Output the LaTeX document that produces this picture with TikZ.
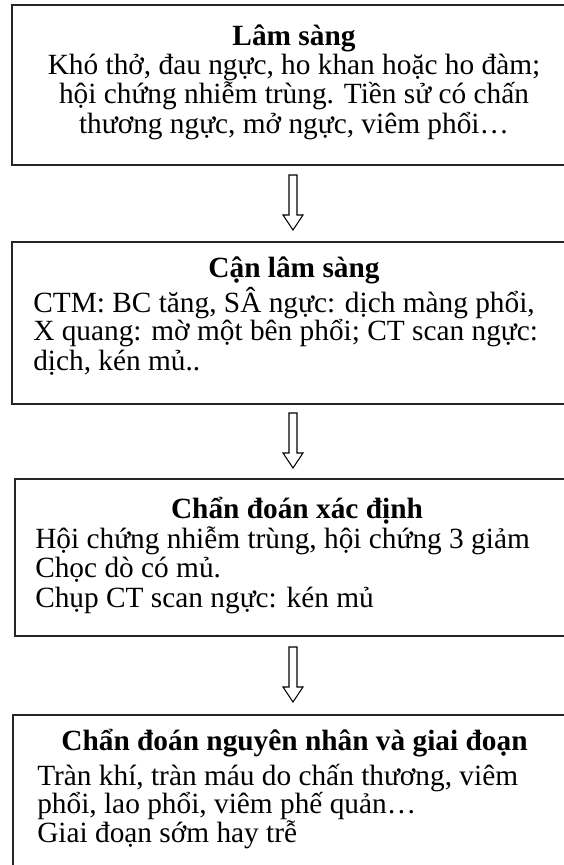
\documentclass[tikz,border=0pt]{standalone}
\usepackage{fontspec}
\setmainfont{Liberation Serif}
\newcommand{\blockarrow}[1]{\draw[arrowline] ([shift={(-4,0)}]#1) -- ++(8,0) -- ++(0,40) -- ++(6,0) -- ++(-10,15) -- ++(-10,-15) -- ++(6,0) -- cycle;}
\begin{document}
\begin{tikzpicture}[x=0.75pt,y=-0.75pt,
  boxline/.style={draw=black!85, line width=1.5pt},
  arrowline/.style={draw=black, line width=0.8pt, fill=white},
  ttl/.style={anchor=base, inner sep=0pt, font=\fontsize{22}{25}\selectfont\bfseries},
  ctr/.style={anchor=base, inner sep=0pt, font=\fontsize{22}{25}\selectfont},
  lft/.style={anchor=base west, inner sep=0pt, font=\fontsize{22}{25}\selectfont}]
\useasboundingbox (0,0) rectangle (564,865);
% boxes
\draw[boxline] (12,5) rectangle (570,165);
\draw[boxline] (12,242) rectangle (570,404);
\draw[boxline] (15,479) rectangle (570,636);
\draw[boxline] (13,715) rectangle (570,872);
% box 1
\node[ttl] (t1) at (294,45) {Lâm sàng};
\node[ctr] (l11) at (294,74) {Khó thở, đau ngực, ho khan hoặc ho đàm;};
\node[ctr] (l12) at (294,103) {hội chứng nhiễm trùng. Tiền sử có chấn};
\node[ctr] (l13) at (294,133) {thương ngực, mở ngực, viêm phổi…};
% box 2
\node[ttl] (t2) at (294,277) {Cận lâm sàng};
\node[lft] (l21) at (33,312) {CTM: BC tăng, SÂ ngực: dịch màng phổi,};
\node[lft] (l22) at (33,340) {X quang: mờ một bên phổi; CT scan ngực:};
\node[lft] (l23) at (33,370) {dịch, kén mủ..};
% box 3
\node[ttl] (t3) at (297,518) {Chẩn đoán xác định};
\node[lft] (l31) at (35,548) {Hội chứng nhiễm trùng, hội chứng 3 giảm};
\node[lft] (l32) at (35,577) {Chọc dò có mủ.};
\node[lft] (l33) at (35,607) {Chụp CT scan ngực: kén mủ};
% box 4
\node[ttl] (t4) at (294.5,750) {Chẩn đoán nguyên nhân và giai đoạn};
\node[lft] (l41) at (37,785) {Tràn khí, tràn máu do chấn thương, viêm};
\node[lft] (l42) at (37,813) {phổi, lao phổi, viêm phế quản…};
\node[lft] (l43) at (37,842) {Giai đoạn sớm hay trễ};
% arrows
\coordinate (a1) at (293,175);
\coordinate (a2) at (293,413);
\coordinate (a3) at (293,647);
\blockarrow{a1}
\blockarrow{a2}
\blockarrow{a3}
\end{tikzpicture}
\end{document}
